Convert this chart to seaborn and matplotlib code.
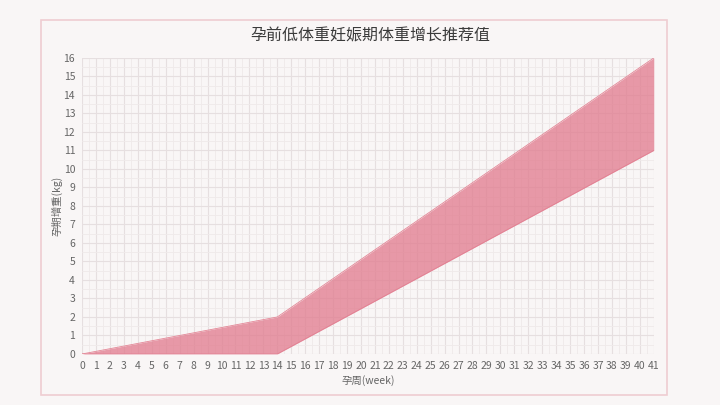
import matplotlib.pyplot as plt
import matplotlib.patches as mpatches
from matplotlib.ticker import MultipleLocator
import seaborn as sns
import pandas as pd

# recommended weight gain band (underweight before pregnancy)
weeks = [0, 14, 41]
gain_low = [0, 0, 11]
gain_high = [0, 2, 16]

title = '孕前低体重妊娠期体重增长推荐值'
xlabel = '孕周(week)'
ylabel = '孕期增重(kg)'

df = pd.DataFrame({'week': weeks, 'low': gain_low, 'high': gain_high})

sns.set_style('white')
plt.rcParams['font.family'] = ['Noto Sans CJK SC', 'DejaVu Sans']

bg = '#f9f6f6'
fig = plt.figure(figsize=(7.2, 4.05), dpi=100, facecolor=bg)
ax = fig.add_axes([0.114, 0.126, 0.794, 0.731])
ax.set_facecolor(bg)

# chart frame
fig.patches.append(mpatches.Rectangle((0.057, 0.025), 0.869, 0.926, transform=fig.transFigure,
                                      fill=False, edgecolor='#efcdd1', linewidth=1.2))

sns.lineplot(data=df, x='week', y='low', ax=ax, color='#e48797', linewidth=0.6)
sns.lineplot(data=df, x='week', y='high', ax=ax, color='#e48797', linewidth=0.6)
ax.fill_between(df['week'], df['low'], df['high'], color='#e27e91', alpha=0.78, linewidth=0, zorder=3)

ax.set_xlim(0, 41)
ax.set_ylim(0, 16)
ax.xaxis.set_major_locator(MultipleLocator(1))
ax.yaxis.set_major_locator(MultipleLocator(1))
ax.xaxis.set_minor_locator(MultipleLocator(0.5))
ax.yaxis.set_minor_locator(MultipleLocator(0.5))
ax.grid(which='major', color='#e6dfe0', linewidth=0.8)
ax.grid(which='minor', color='#efeaea', linewidth=0.6)
ax.set_axisbelow(True)
for s in ax.spines.values():
    s.set_visible(False)
ax.tick_params(which='both', length=0, labelsize=7.5, colors='#666666', pad=5)

ax.set_xlabel(xlabel, fontsize=7.5, color='#666666', labelpad=3)
ax.set_ylabel(ylabel, fontsize=7.5, color='#666666', labelpad=1)
fig.text(0.514, 0.912, title, ha='center', va='center', fontsize=11.5, color='#3a3a3a')

fig.savefig('out.png', dpi=100, facecolor=bg)
